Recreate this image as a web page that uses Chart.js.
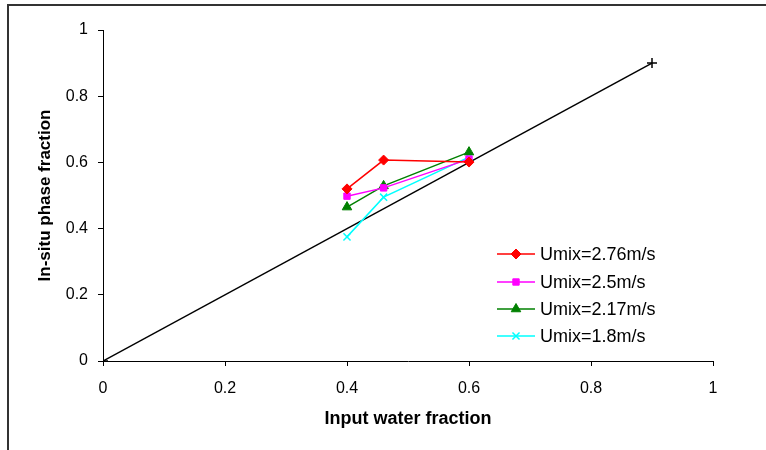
<!DOCTYPE html>
<html>
<head>
<meta charset="utf-8">
<script src="https://cdn.jsdelivr.net/npm/chart.js@4"></script>
<style>
  html, body { margin: 0; padding: 0; background: #fff; }
  #wrap { width: 766px; height: 450px; position: relative; }
</style>
</head>
<body>
<div id="wrap"><canvas id="chart"></canvas></div>
<script>
// input water fraction (x) shared by all series
const inputFraction = [0.4, 0.46, 0.6]

const umix276 = [0.52, 0.607, 0.601]
const umix25  = [0.498, 0.523, 0.61]
const umix217 = [0.465, 0.529, 0.631]
const umix18  = [0.375, 0.495, 0.616]

// 1:1 reference line
const refX = [0, 0.9]
const refY = [0, 0.9]

const seriesLabels = ['Umix=2.76m/s', 'Umix=2.5m/s', 'Umix=2.17m/s', 'Umix=1.8m/s']
const xTicks = [0, 0.2, 0.4, 0.6, 0.8, 1]
const yTicks = [0, 0.2, 0.4, 0.6, 0.8, 1]

const FONT = "'Liberation Sans', Arial, sans-serif"
const pts = (xs, ys) => xs.map((x, i) => ({ x, y: ys[i] }))

const series = [
  { label: seriesLabels[0], data: pts(inputFraction, umix276), color: '#ff0000', style: 'rectRot', r: 5 },
  { label: seriesLabels[1], data: pts(inputFraction, umix25),  color: '#ff00ff', style: 'rect',    r: 4.5 },
  { label: seriesLabels[2], data: pts(inputFraction, umix217), color: '#008000', style: 'triangle', r: 5.5 },
  { label: seriesLabels[3], data: pts(inputFraction, umix18),  color: '#00ffff', style: 'crossRot', r: 5 },
]

const datasets = series.map(s => ({
  label: s.label,
  data: s.data,
  borderColor: s.color,
  backgroundColor: s.color,
  pointBorderColor: s.color,
  pointBackgroundColor: s.color,
  pointStyle: s.style,
  pointRadius: s.r,
  pointBorderWidth: s.style === 'crossRot' ? 1.5 : 1,
  borderWidth: 1.5,
  showLine: true,
}))
datasets.push({
  label: '',
  data: pts(refX, refY),
  borderColor: '#000',
  backgroundColor: '#000',
  pointStyle: 'cross',
  pointRadius: 5,
  pointBorderWidth: 1.5,
  borderWidth: 1.5,
  showLine: true,
})

// outer frame + legend inside plot area
const decor = {
  id: 'decor',
  afterDraw(chart) {
    const ctx = chart.ctx
    ctx.save()
    ctx.strokeStyle = '#333'
    ctx.lineWidth = 2
    ctx.beginPath()
    ctx.moveTo(8, 450)
    ctx.lineTo(8, 5)
    ctx.lineTo(766, 5)
    ctx.stroke()

    const x0 = 497, x1 = 535, tx = 540
    const rows = [254, 282, 309, 336]
    ctx.font = `18px ${FONT}`
    ctx.textBaseline = 'middle'
    ctx.fillStyle = '#000'
    series.forEach((s, i) => {
      const y = rows[i]
      ctx.strokeStyle = s.color
      ctx.lineWidth = 1.5
      ctx.beginPath()
      ctx.moveTo(x0, y)
      ctx.lineTo(x1, y)
      ctx.stroke()
      ctx.fillStyle = s.color
      ctx.lineWidth = s.style === 'crossRot' ? 1.5 : 1
      Chart.helpers.drawPoint(ctx, { pointStyle: s.style, radius: s.r, rotation: 0, borderWidth: 1 }, (x0 + x1) / 2, y)
      ctx.fillStyle = '#000'
      ctx.fillText(s.label, tx, y + 1)
    })
    ctx.restore()
  }
}

new Chart(document.getElementById('chart'), {
  type: 'scatter',
  data: { datasets },
  plugins: [decor],
  options: {
    responsive: true,
    maintainAspectRatio: false,
    animation: false,
    layout: { padding: { top: 30, right: 53, left: 0, bottom: 0 } },
    plugins: {
      legend: { display: false },
      tooltip: { enabled: false },
    },
    scales: {
      x: {
        type: 'linear',
        min: 0, max: 1,
        afterBuildTicks: s => { s.ticks = xTicks.map(v => ({ value: v })) },
        afterFit: s => { s.height = 89 },
        grid: { drawOnChartArea: false, color: '#000', tickLength: 5, tickColor: '#000' },
        border: { color: '#000', width: 1 },
        ticks: { color: '#000', font: { family: FONT, size: 16 }, padding: 13, maxRotation: 0,
                 callback: v => String(v) },
        title: { display: true, text: 'Input water fraction', color: '#000',
                 font: { family: FONT, size: 18, weight: 'bold' }, padding: { top: 4, bottom: 20 } },
      },
      y: {
        type: 'linear',
        min: 0, max: 1,
        afterBuildTicks: s => { s.ticks = yTicks.map(v => ({ value: v })) },
        afterFit: s => { s.width = 103 },
        grid: { drawOnChartArea: false, color: '#000', tickLength: 5, tickColor: '#000' },
        border: { color: '#000', width: 1 },
        ticks: { color: '#000', font: { family: FONT, size: 16 }, padding: 10,
                 callback: v => String(v) },
        title: { display: true, text: 'In-situ phase fraction', color: '#000',
                 font: { family: FONT, size: 17, weight: 'bold' }, padding: { top: 35, bottom: 0 } },
      },
    },
  },
})
</script>
</body>
</html>
